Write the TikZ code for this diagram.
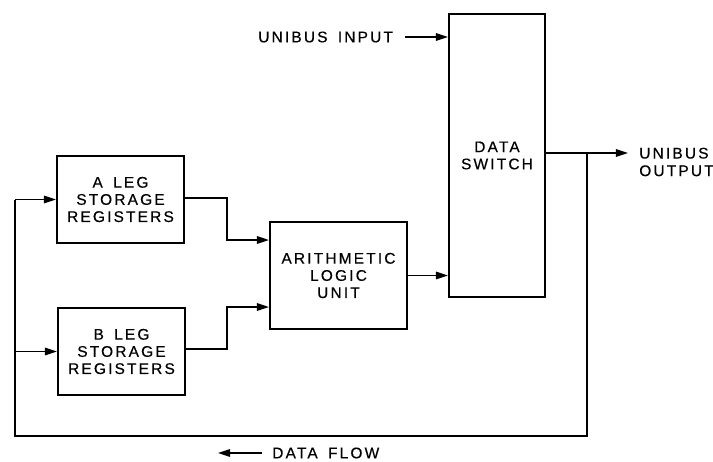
\documentclass[tikz,border=0pt]{standalone}
\usepackage{fontspec}
\setmainfont{Liberation Sans}[LetterSpace=14, WordSpace=1.6, FakeBold=0.4]
\usetikzlibrary{arrows.meta, positioning, calc}

\begin{document}
\begin{tikzpicture}[x=0.025cm, y=-0.025cm,
  block/.style={draw, line width=1.6pt, align=center, inner sep=0pt,
    font=\fontsize{11}{12.2}\selectfont},
  wire/.style={line width=0.9pt},
  flow/.style={wire, -{Triangle[length=3mm, width=1.9mm]}},
  lbl/.style={font=\fontsize{11}{12.5}\selectfont, inner sep=0pt}]
\useasboundingbox (0,0) rectangle (713,462);
% blocks
\node[block, minimum width=3.175cm, minimum height=2.175cm] (aleg) at (120.5,199.5) {A LEG\\STORAGE\\REGISTERS};
\node[block, minimum width=3.175cm, minimum height=2.175cm] (bleg) at (121.5,351.5) {B LEG\\STORAGE\\REGISTERS};
\node[block, minimum width=3.425cm, minimum height=2.675cm] (alu) at (338.5,275.5) {ARITHMETIC\\LOGIC\\UNIT};
\node[block, minimum width=2.4cm, minimum height=7.075cm] (dsw) at (497,155.5) {DATA\\SWITCH};
% labels
\node[lbl, anchor=west] (uin) at (258,37) {UNIBUS INPUT};
\node[lbl, anchor=west, align=left] (uout) at (639,162) {UNIBUS\\OUTPUT};
\node[lbl, anchor=west] (dflow) at (272,453) {DATA FLOW};
\coordinate (tap) at (587,153);
\coordinate (loop) at (15,436);
% connectors
\draw[flow] ($(uin.east)+(12,0)$) -- (dsw.west |- uin.east);
\draw[flow] (dsw.east |- tap) -- ($(uout.west |- tap)+(-11,0)$);
\draw[flow] (aleg.east |- 0,198) -| (227,240) -- (alu.west |- 0,240);
\draw[flow] (bleg.east |- 0,349) -| (227,307) -- (alu.west |- 0,307);
\draw[flow] (alu.east) -- (dsw.west |- alu.east);
\draw[wire] (tap) |- (loop) -- (loop |- aleg.west);
\draw[flow] (loop |- aleg.west) -- (aleg.west);
\draw[flow] (loop |- bleg.west) -- (bleg.west);
\draw[flow] ($(dflow.west)+(-10,0)$) -- ++(-44,0);
\end{tikzpicture}
\end{document}
